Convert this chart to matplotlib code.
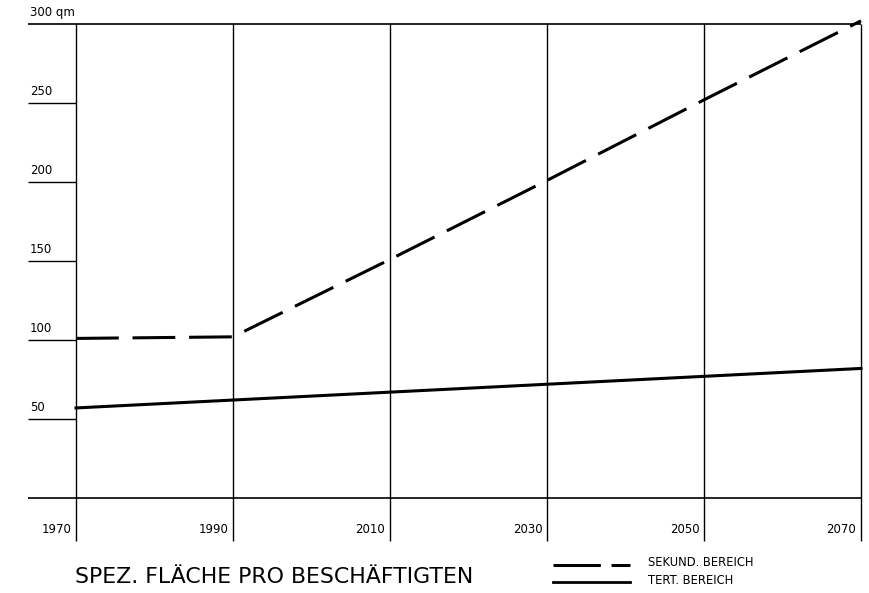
import matplotlib.pyplot as plt
from matplotlib.lines import Line2D

YEARS = [1970, 1990, 2010, 2030, 2050, 2070]
SEKUND = [101, 102, 151, 201, 252, 302]
TERT = [57, 62, 67, 72, 77, 82]

YTICKS = [50, 100, 150, 200, 250, 300]
YLABELS = ["50", "100", "150", "200", "250", "300 qm"]

TITLE = "SPEZ. FLÄCHE PRO BESCHÄFTIGTEN"
LEGEND = ["SEKUND. BEREICH", "TERT. BEREICH"]

DASH = (0, (14, 4.5))

plt.rcParams["font.family"] = ["DejaVu Sans"]

fig = plt.figure(figsize=(8.69, 5.93), dpi=100)
W, H = 869, 593
ax = fig.add_axes([76 / W, 95 / H, 785 / W, 474 / H])
ax.set_xlim(1970, 2070)
ax.set_ylim(0, 300)
ax.axis("off")

# frame / grid
ax.vlines(YEARS, -27, 300, color="black", lw=1.0, clip_on=False)
ax.hlines([0, 300], 1963.9, 2070, color="black", lw=1.2, clip_on=False)
ax.hlines(YTICKS[:-1], 1963.9, 1970, color="black", lw=1.0, clip_on=False)

for v, lab in zip(YTICKS, YLABELS):
    ax.text(1964.1, v + 3, lab, ha="left", va="bottom", fontsize=8.5, clip_on=False)
for yr in YEARS:
    ax.text(yr - 0.6, -16, str(yr), ha="right", va="top", fontsize=8.5, clip_on=False)

ax.plot(YEARS, SEKUND, color="black", lw=2.2, linestyle=DASH, clip_on=False,
        solid_capstyle="butt", dash_capstyle="butt")
ax.plot(YEARS, TERT, color="black", lw=2.2, clip_on=False)

fig.text(75 / W, 1 - 577 / H, TITLE, ha="left", va="center", fontsize=15.8)

# legend
fig.add_artist(Line2D([553 / W, 630 / W], [1 - 565 / H] * 2, color="black", lw=2.2,
                      linestyle=(0, (15.5, 3.5)), dash_capstyle="butt"))
fig.add_artist(Line2D([553 / W, 630 / W], [1 - 582 / H] * 2, color="black", lw=2.0))
fig.text(648 / W, 1 - 563 / H, LEGEND[0], ha="left", va="center", fontsize=8.3)
fig.text(648 / W, 1 - 580 / H, LEGEND[1], ha="left", va="center", fontsize=8.3)

fig.savefig("out.png", dpi=100)
